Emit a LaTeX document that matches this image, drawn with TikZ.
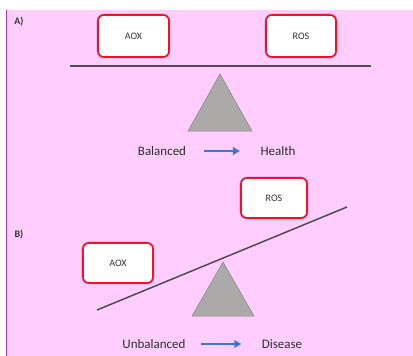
\documentclass[tikz,border=0pt]{standalone}
\usepackage{fontspec}
\setmainfont{Carlito}
\usetikzlibrary{arrows.meta}
\definecolor{bgpink}{RGB}{255,206,255}
\definecolor{edgepurple}{RGB}{170,60,180}
\definecolor{boxred}{RGB}{240,20,35}
\definecolor{glow}{RGB}{165,150,240}
\definecolor{beam}{RGB}{80,75,80}
\definecolor{fulcrum}{RGB}{172,169,169}
\definecolor{fulcrumedge}{RGB}{135,130,135}
\definecolor{arrowblue}{RGB}{65,115,210}
\begin{document}
\begin{tikzpicture}[x=1pt,y=-1pt,
  tag/.style={font=\fontsize{10}{12}\selectfont, text=black!80},
  word/.style={font=\fontsize{13}{15}\selectfont, text=black!82},
  panel/.style={font=\fontsize{10}{12}\selectfont\bfseries, text=black!80},
  box/.style={tag, draw=boxred, line width=1.6pt, fill=white, rounded corners=6pt,
     inner sep=0pt, preaction={draw=glow, line width=2.8pt}},
  beamline/.style={draw=beam, line width=1.5pt},
  tri/.style={fill=fulcrum, draw=fulcrumedge, line width=0.5pt},
  flow/.style={draw=arrowblue, line width=2.4pt, -{Triangle[length=7pt,width=7.5pt]}}]
\useasboundingbox (0,0) rectangle (413,356);
\fill[white] (0,0) rectangle (413,356);
\fill[bgpink] (7,10) rectangle (413,356);
\draw[edgepurple, line width=1.2pt] (6.6,10) -- (6.6,356);
% Panel A
\node[panel] (la) at (19,22) {A)};
\node[box, minimum width=71pt, minimum height=42pt] (aoxA) at (133.5,36) {AOX};
\node[box, minimum width=70pt, minimum height=42pt] (rosA) at (301,36) {ROS};
\coordinate (bAl) at (70,66);
\coordinate (bAr) at (371,66);
\draw[beamline] (bAl) -- (bAr);
\coordinate (tAtop) at (220,74);
\coordinate (tAl) at (188,131);
\coordinate (tAr) at (252,131);
\draw[tri] (tAtop) -- (tAr) -- (tAl) -- cycle;
\node[word] (bal) at (162,151) {Balanced};
\node[word] (hea) at (278,151) {Health};
\draw[flow, shorten <=14pt, shorten >=17pt] (bal.east) -- (hea.west |- bal.east);
% Panel B
\node[panel] (lb) at (19,235) {B)};
\node[box, minimum width=66pt, minimum height=40pt] (rosB) at (274,198) {ROS};
\node[box, minimum width=70pt, minimum height=40pt] (aoxB) at (118,263) {AOX};
\coordinate (bBl) at (97,310);
\coordinate (bBr) at (347,207);
\draw[beamline] (bBl) -- (bBr);
\coordinate (tBtop) at (223,262);
\coordinate (tBl) at (192,316);
\coordinate (tBr) at (254,316);
\draw[tri] (tBtop) -- (tBr) -- (tBl) -- cycle;
\node[word] (unb) at (154,344) {Unbalanced};
\node[word] (dis) at (282,344) {Disease};
\draw[flow, shorten <=12pt, shorten >=17pt] (unb.east) -- (dis.west |- unb.east);
\end{tikzpicture}
\end{document}
